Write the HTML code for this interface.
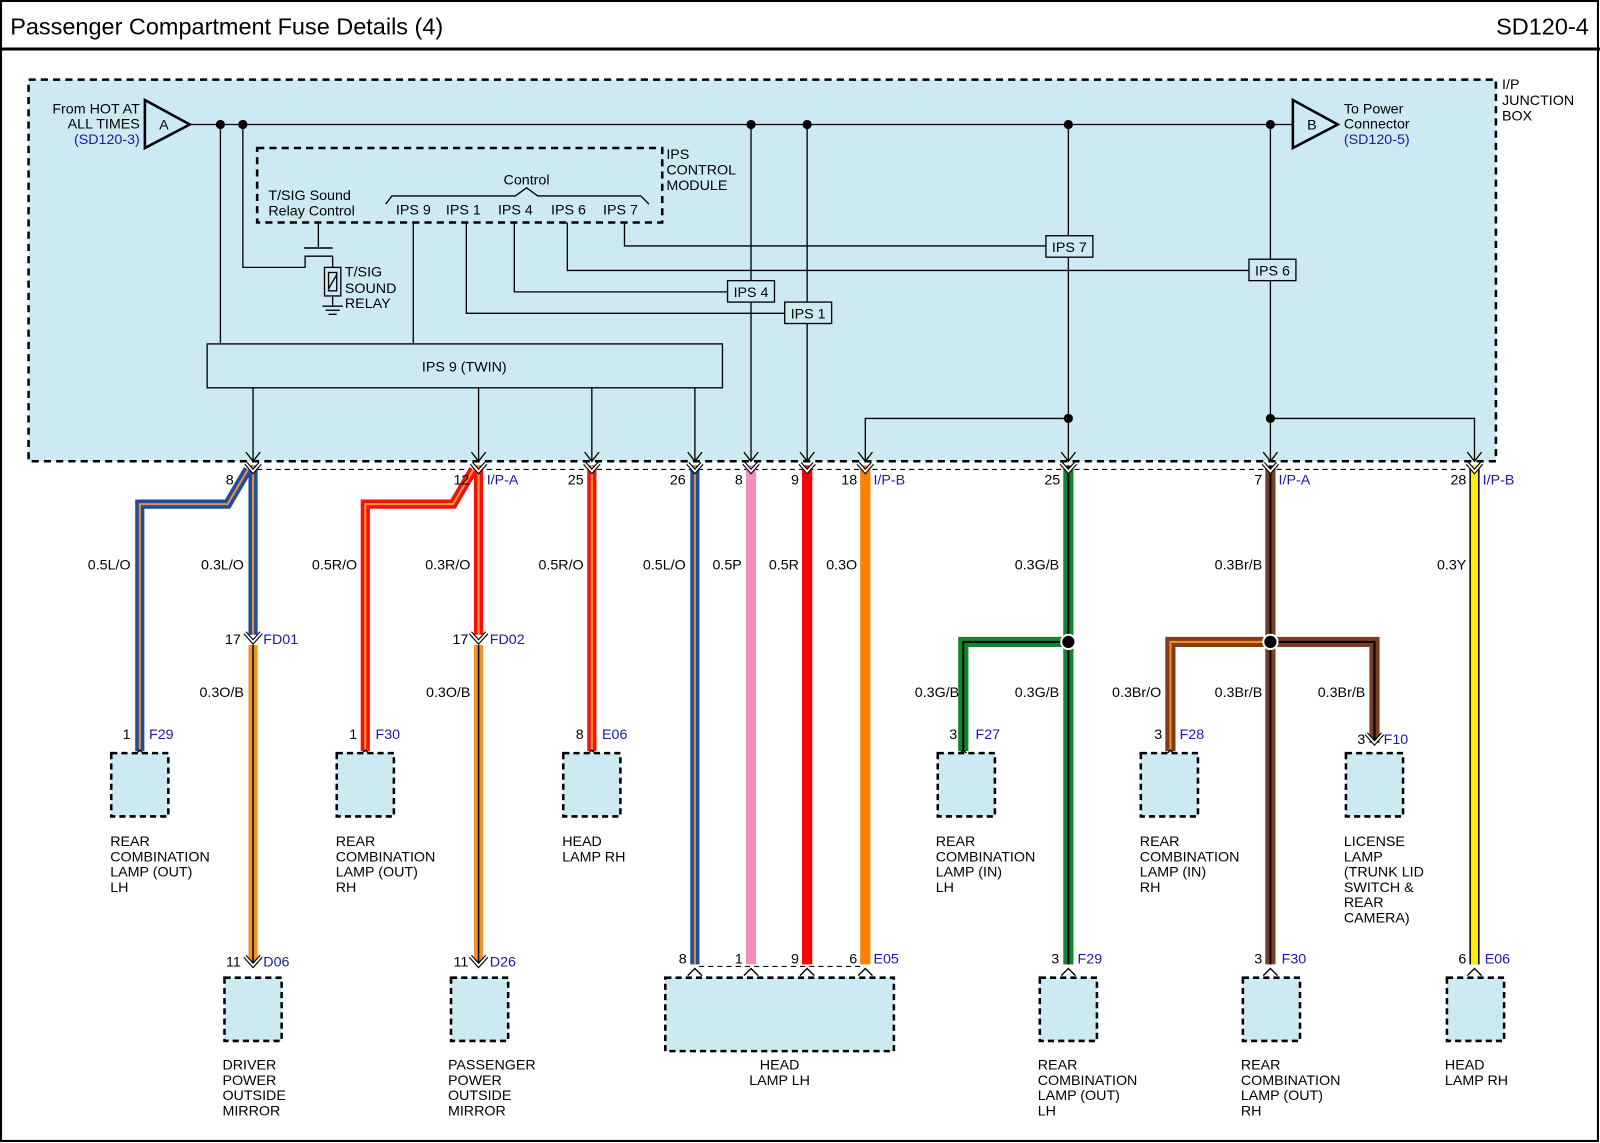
<!DOCTYPE html>
<html><head><meta charset="utf-8"><style>
html,body{margin:0;padding:0;background:#fff}
svg{display:block}
text{font-family:"Liberation Sans",sans-serif;font-size:14px;fill:#000}
.b{fill:#1a1aa6}
.r{text-anchor:end}
.m{text-anchor:middle}
</style></head><body>
<svg width="1600" height="1143" viewBox="0 0 1568 1120" preserveAspectRatio="none" xmlns="http://www.w3.org/2000/svg">
<rect x="0" y="0" width="1568" height="1120" fill="#fff"/>
<rect x="1" y="1" width="1565" height="1117" fill="none" stroke="#000" stroke-width="2"/>
<text x="10" y="34" style="font-size:23px">Passenger Compartment Fuse Details (4)</text>
<text x="1557" y="34" class="r" style="font-size:23px">SD120-4</text>
<line x1="0" y1="48" x2="1568" y2="48" stroke="#000" stroke-width="3"/>

<!-- junction box -->
<rect x="28" y="78" width="1438" height="374" fill="#cdeaf2" stroke="#000" stroke-width="2.5" stroke-dasharray="7,5"/>
<text x="1472" y="87">I/P</text><text x="1472" y="103">JUNCTION</text><text x="1472" y="118">BOX</text>

<g fill="none" stroke="#000" stroke-width="1.3">
<polygon points="142,98 142,145 186,122" stroke-width="2.5" fill="none"/>
<polygon points="1267,98 1267,145 1311,122" stroke-width="2.5" fill="none"/>
<line x1="186" y1="122" x2="1267" y2="122"/>
<line x1="216" y1="122" x2="216" y2="337"/>
<polyline points="238,122 238,262 299,262 299,251 326,251"/>
<line x1="298" y1="243" x2="326" y2="243" stroke-width="1.5"/>
<line x1="312" y1="218" x2="312" y2="243"/>
<line x1="326" y1="251" x2="326" y2="300"/>
<rect x="318" y="262" width="16" height="28" fill="#cdeaf2"/>
<rect x="322" y="267" width="8" height="18"/>
<line x1="322" y1="283" x2="330" y2="269"/>
<line x1="316" y1="300" x2="336" y2="300"/><line x1="319" y1="304" x2="333" y2="304"/><line x1="322" y1="308" x2="330" y2="308"/>
<rect x="252" y="145" width="397" height="73" stroke-width="2.5" stroke-dasharray="7,5"/>
<polyline points="378,200 384,192 505,192 516,184 527,192 628,192 636,200"/>
<line x1="405" y1="218" x2="405" y2="337"/>
<polyline points="457,218 457,307 769,307"/>
<polyline points="504,218 504,286 713,286"/>
<polyline points="556,218 556,265 1224,265"/>
<polyline points="612,218 612,241 1025,241"/>
<line x1="736" y1="122" x2="736" y2="452"/>
<line x1="791" y1="122" x2="791" y2="452"/>
<line x1="1047" y1="122" x2="1047" y2="452"/>
<line x1="1245" y1="122" x2="1245" y2="452"/>
<polyline points="1047,410 848,410 848,452"/>
<polyline points="1245,410 1445,410 1445,452"/>
<rect x="203" y="337" width="505" height="43" fill="#cdeaf2"/>
<line x1="248" y1="380" x2="248" y2="452"/>
<line x1="469" y1="380" x2="469" y2="452"/>
<line x1="580" y1="380" x2="580" y2="452"/>
<line x1="681" y1="380" x2="681" y2="452"/>
<rect x="713" y="275" width="46" height="21" fill="#cdeaf2"/>
<rect x="769" y="296" width="46" height="21" fill="#cdeaf2"/>
<rect x="1025" y="231" width="46" height="21" fill="#cdeaf2"/>
<rect x="1224" y="254" width="46" height="21" fill="#cdeaf2"/>
</g>
<g fill="#000">
<circle cx="216" cy="122" r="4.5"/><circle cx="238" cy="122" r="4.5"/><circle cx="736" cy="122" r="4.5"/>
<circle cx="791" cy="122" r="4.5"/><circle cx="1047" cy="122" r="4.5"/><circle cx="1245" cy="122" r="4.5"/>
<circle cx="1047" cy="410" r="4.5"/><circle cx="1245" cy="410" r="4.5"/>
</g>
<text x="156" y="127">A</text><text x="1281" y="127">B</text>
<text x="137" y="111" class="r">From HOT AT</text><text x="137" y="126" class="r">ALL TIMES</text><text x="137" y="141" class="r b">(SD120-3)</text>
<text x="1317" y="111">To Power</text><text x="1317" y="126">Connector</text><text x="1317" y="141" class="b">(SD120-5)</text>
<text x="653" y="156">IPS</text><text x="653" y="171">CONTROL</text><text x="653" y="186">MODULE</text>
<text x="263" y="196">T/SIG Sound</text><text x="263" y="211">Relay Control</text>
<text x="516" y="181" class="m">Control</text>
<text x="388" y="210">IPS 9</text><text x="437" y="210">IPS 1</text><text x="488" y="210">IPS 4</text><text x="540" y="210">IPS 6</text><text x="591" y="210">IPS 7</text>
<text x="338" y="271">T/SIG</text><text x="338" y="287">SOUND</text><text x="338" y="302">RELAY</text>
<text x="455" y="364" class="m">IPS 9 (TWIN)</text>
<text x="736" y="291" class="m">IPS 4</text><text x="792" y="312" class="m">IPS 1</text>
<text x="1048" y="247" class="m">IPS 7</text><text x="1247" y="270" class="m">IPS 6</text>

<!-- arrowheads into bottom of box -->
<g fill="none" stroke="#000" stroke-width="1.3">
<polyline points="241,443 248,452 255,443"/><polyline points="462,443 469,452 476,443"/>
<polyline points="573,443 580,452 587,443"/><polyline points="674,443 681,452 688,443"/>
<polyline points="729,443 736,452 743,443"/><polyline points="784,443 791,452 798,443"/>
<polyline points="841,443 848,452 855,443"/><polyline points="1040,443 1047,452 1054,443"/>
<polyline points="1238,443 1245,452 1252,443"/><polyline points="1438,443 1445,452 1452,443"/>
<line x1="252" y1="460" x2="1441" y2="460" stroke-dasharray="5,4" stroke-width="1"/>
<line x1="685" y1="947" x2="845" y2="947" stroke-dasharray="5,4" stroke-width="1"/>
</g>

<!-- wires -->
<g fill="none" stroke-linejoin="miter">
<!-- L/O -->
<polyline points="248,456 248,622" stroke="#1f4e9c" stroke-width="9"/><polyline points="248,456 248,622" stroke="#e8903a" stroke-width="2"/>
<polyline points="243,460 223,494 137,494 137,736" stroke="#1f4e9c" stroke-width="9"/><polyline points="243,460 223,494 137,494 137,736" stroke="#e8903a" stroke-width="2"/>
<polyline points="248,632 248,945" stroke="#f39422" stroke-width="9"/><polyline points="248,632 248,945" stroke="#000" stroke-width="1.5"/>
<!-- R/O -->
<polyline points="469,456 469,622" stroke="#f51010" stroke-width="9"/><polyline points="469,456 469,622" stroke="#ffa030" stroke-width="2"/>
<polyline points="464,460 444,494 358,494 358,736" stroke="#f51010" stroke-width="9"/><polyline points="464,460 444,494 358,494 358,736" stroke="#ffa030" stroke-width="2"/>
<polyline points="469,632 469,945" stroke="#f39422" stroke-width="9"/><polyline points="469,632 469,945" stroke="#000" stroke-width="1.5"/>
<polyline points="580,456 580,736" stroke="#f51010" stroke-width="9"/><polyline points="580,456 580,736" stroke="#ffa030" stroke-width="2"/>
<polyline points="681,456 681,945" stroke="#1f4e9c" stroke-width="9"/><polyline points="681,456 681,945" stroke="#e8903a" stroke-width="2"/>
<polyline points="736,456 736,945" stroke="#f48cc4" stroke-width="10"/>
<polyline points="791,456 791,945" stroke="#f00" stroke-width="10"/>
<polyline points="848,456 848,945" stroke="#ff8000" stroke-width="10"/>
<!-- G/B -->
<polyline points="1047,456 1047,945" stroke="#10862e" stroke-width="10"/><polyline points="1047,456 1047,945" stroke="#000" stroke-width="2"/>
<polyline points="1047,629 944,629 944,736" stroke="#10862e" stroke-width="10"/><polyline points="1047,629 944,629 944,736" stroke="#000" stroke-width="2"/>
<!-- Br -->
<polyline points="1245,456 1245,945" stroke="#7a3f22" stroke-width="10"/><polyline points="1245,456 1245,945" stroke="#000" stroke-width="2"/>
<polyline points="1245,629 1147,629 1147,736" stroke="#7a3f22" stroke-width="10"/><polyline points="1245,629 1147,629 1147,736" stroke="#ff8c1a" stroke-width="2"/>
<polyline points="1245,629 1347,629 1347,728" stroke="#7a3f22" stroke-width="10"/><polyline points="1245,629 1347,629 1347,728" stroke="#000" stroke-width="2"/>
<!-- Y -->
<polyline points="1445,456 1445,945" stroke="#000" stroke-width="10"/><polyline points="1445,456 1445,945" stroke="#ffee00" stroke-width="7"/>
</g>
<g fill="#000" stroke="#fff" stroke-width="2">
<circle cx="1047" cy="629" r="7"/><circle cx="1245" cy="629" r="7"/>
</g>
<!-- white chevrons -->
<g fill="none" stroke-linejoin="miter">
<g stroke="#000" stroke-width="4">
<polyline points="241,454 248,462 255,454"/><polyline points="462,454 469,462 476,454"/><polyline points="573,454 580,462 587,454"/>
<polyline points="674,454 681,462 688,454"/><polyline points="729,454 736,462 743,454"/><polyline points="784,454 791,462 798,454"/>
<polyline points="841,454 848,462 855,454"/><polyline points="1040,454 1047,462 1054,454"/><polyline points="1238,454 1245,462 1252,454"/>
<polyline points="1438,454 1445,462 1452,454"/>
<polyline points="240,620 248,629 256,620"/><polyline points="461,620 469,629 477,620"/>
<polyline points="240,937 248,946 256,937"/><polyline points="461,937 469,946 477,937"/>
<polyline points="1339,719 1347,728 1355,719"/>
</g>
<g stroke="#fff" stroke-width="1.8">
<polyline points="241,454 248,462 255,454"/><polyline points="462,454 469,462 476,454"/><polyline points="573,454 580,462 587,454"/>
<polyline points="674,454 681,462 688,454"/><polyline points="729,454 736,462 743,454"/><polyline points="784,454 791,462 798,454"/>
<polyline points="841,454 848,462 855,454"/><polyline points="1040,454 1047,462 1054,454"/><polyline points="1238,454 1245,462 1252,454"/>
<polyline points="1438,454 1445,462 1452,454"/>
<polyline points="240,620 248,629 256,620"/><polyline points="461,620 469,629 477,620"/>
<polyline points="240,937 248,946 256,937"/><polyline points="461,937 469,946 477,937"/>
<polyline points="1339,719 1347,728 1355,719"/>
</g>
<g stroke="#000" stroke-width="1.3">
<polyline points="130,742 137,735 144,742"/><polyline points="351,742 358,735 365,742"/><polyline points="573,742 580,735 587,742"/>
<polyline points="937,742 944,735 951,742"/><polyline points="1140,742 1147,735 1154,742"/>
<polyline points="674,956 681,949 688,956"/><polyline points="729,956 736,949 743,956"/><polyline points="784,956 791,949 798,956"/><polyline points="841,956 848,949 855,956"/>
<polyline points="1040,956 1047,949 1054,956"/><polyline points="1238,956 1245,949 1252,956"/><polyline points="1438,956 1445,949 1452,956"/>
</g>
</g>

<!-- connector boxes -->
<g fill="#cdeaf2" stroke="#000" stroke-width="2.5" stroke-dasharray="6,4">
<rect x="109" y="738" width="56" height="62"/><rect x="330" y="738" width="56" height="62"/><rect x="552" y="738" width="56" height="62"/>
<rect x="919" y="738" width="56" height="62"/><rect x="1118" y="738" width="56" height="62"/><rect x="1319" y="738" width="56" height="62"/>
<rect x="220" y="958" width="56" height="62"/><rect x="442" y="958" width="56" height="62"/>
<rect x="652" y="958" width="224" height="72"/>
<rect x="1019" y="958" width="56" height="62"/><rect x="1218" y="958" width="56" height="62"/><rect x="1418" y="958" width="56" height="62"/>
</g>

<!-- wire labels -->
<text x="229" y="475" class="r">8</text>
<text x="460" y="475" class="r">12</text><text x="477" y="475" class="b">I/P-A</text>
<text x="572" y="475" class="r">25</text>
<text x="672" y="475" class="r">26</text>
<text x="728" y="475" class="r">8</text>
<text x="783" y="475" class="r">9</text>
<text x="840" y="475" class="r">18</text><text x="856" y="475" class="b">I/P-B</text>
<text x="1039" y="475" class="r">25</text>
<text x="1237" y="475" class="r">7</text><text x="1253" y="475" class="b">I/P-A</text>
<text x="1437" y="475" class="r">28</text><text x="1453" y="475" class="b">I/P-B</text>

<text x="128" y="558" class="r">0.5L/O</text><text x="239" y="558" class="r">0.3L/O</text>
<text x="350" y="558" class="r">0.5R/O</text><text x="461" y="558" class="r">0.3R/O</text>
<text x="572" y="558" class="r">0.5R/O</text><text x="672" y="558" class="r">0.5L/O</text>
<text x="727" y="558" class="r">0.5P</text><text x="783" y="558" class="r">0.5R</text><text x="840" y="558" class="r">0.3O</text>
<text x="1038" y="558" class="r">0.3G/B</text><text x="1237" y="558" class="r">0.3Br/B</text><text x="1437" y="558" class="r">0.3Y</text>

<text x="236" y="631" class="r">17</text><text x="258" y="631" class="b">FD01</text>
<text x="459" y="631" class="r">17</text><text x="480" y="631" class="b">FD02</text>

<text x="239" y="683" class="r">0.3O/B</text><text x="461" y="683" class="r">0.3O/B</text>
<text x="940" y="683" class="r">0.3G/B</text><text x="1038" y="683" class="r">0.3G/B</text>
<text x="1138" y="683" class="r">0.3Br/O</text><text x="1237" y="683" class="r">0.3Br/B</text><text x="1338" y="683" class="r">0.3Br/B</text>

<text x="128" y="724" class="r">1</text><text x="146" y="724" class="b">F29</text>
<text x="350" y="724" class="r">1</text><text x="368" y="724" class="b">F30</text>
<text x="572" y="724" class="r">8</text><text x="590" y="724" class="b">E06</text>
<text x="938" y="724" class="r">3</text><text x="956" y="724" class="b">F27</text>
<text x="1139" y="724" class="r">3</text><text x="1156" y="724" class="b">F28</text>
<text x="1338" y="729" class="r">3</text><text x="1356" y="729" class="b">F10</text>

<text x="236" y="947" class="r">11</text><text x="258" y="947" class="b">D06</text>
<text x="459" y="947" class="r">11</text><text x="480" y="947" class="b">D26</text>
<text x="673" y="944" class="r">8</text><text x="728" y="944" class="r">1</text><text x="783" y="944" class="r">9</text>
<text x="840" y="944" class="r">6</text><text x="856" y="944" class="b">E05</text>
<text x="1038" y="944" class="r">3</text><text x="1056" y="944" class="b">F29</text>
<text x="1237" y="944" class="r">3</text><text x="1256" y="944" class="b">F30</text>
<text x="1437" y="944" class="r">6</text><text x="1455" y="944" class="b">E06</text>

<!-- component labels -->
<text x="108" y="829">REAR</text><text x="108" y="844">COMBINATION</text><text x="108" y="859">LAMP (OUT)</text><text x="108" y="874">LH</text>
<text x="329" y="829">REAR</text><text x="329" y="844">COMBINATION</text><text x="329" y="859">LAMP (OUT)</text><text x="329" y="874">RH</text>
<text x="551" y="829">HEAD</text><text x="551" y="844">LAMP RH</text>
<text x="917" y="829">REAR</text><text x="917" y="844">COMBINATION</text><text x="917" y="859">LAMP (IN)</text><text x="917" y="874">LH</text>
<text x="1117" y="829">REAR</text><text x="1117" y="844">COMBINATION</text><text x="1117" y="859">LAMP (IN)</text><text x="1117" y="874">RH</text>
<text x="1317" y="829">LICENSE</text><text x="1317" y="844">LAMP</text><text x="1317" y="859">(TRUNK LID</text><text x="1317" y="874">SWITCH &amp;</text><text x="1317" y="889">REAR</text><text x="1317" y="904">CAMERA)</text>
<text x="218" y="1048">DRIVER</text><text x="218" y="1063">POWER</text><text x="218" y="1078">OUTSIDE</text><text x="218" y="1093">MIRROR</text>
<text x="439" y="1048">PASSENGER</text><text x="439" y="1063">POWER</text><text x="439" y="1078">OUTSIDE</text><text x="439" y="1093">MIRROR</text>
<text x="764" y="1048" class="m">HEAD</text><text x="764" y="1063" class="m">LAMP LH</text>
<text x="1017" y="1048">REAR</text><text x="1017" y="1063">COMBINATION</text><text x="1017" y="1078">LAMP (OUT)</text><text x="1017" y="1093">LH</text>
<text x="1216" y="1048">REAR</text><text x="1216" y="1063">COMBINATION</text><text x="1216" y="1078">LAMP (OUT)</text><text x="1216" y="1093">RH</text>
<text x="1416" y="1048">HEAD</text><text x="1416" y="1063">LAMP RH</text>
</svg>
</body></html>
